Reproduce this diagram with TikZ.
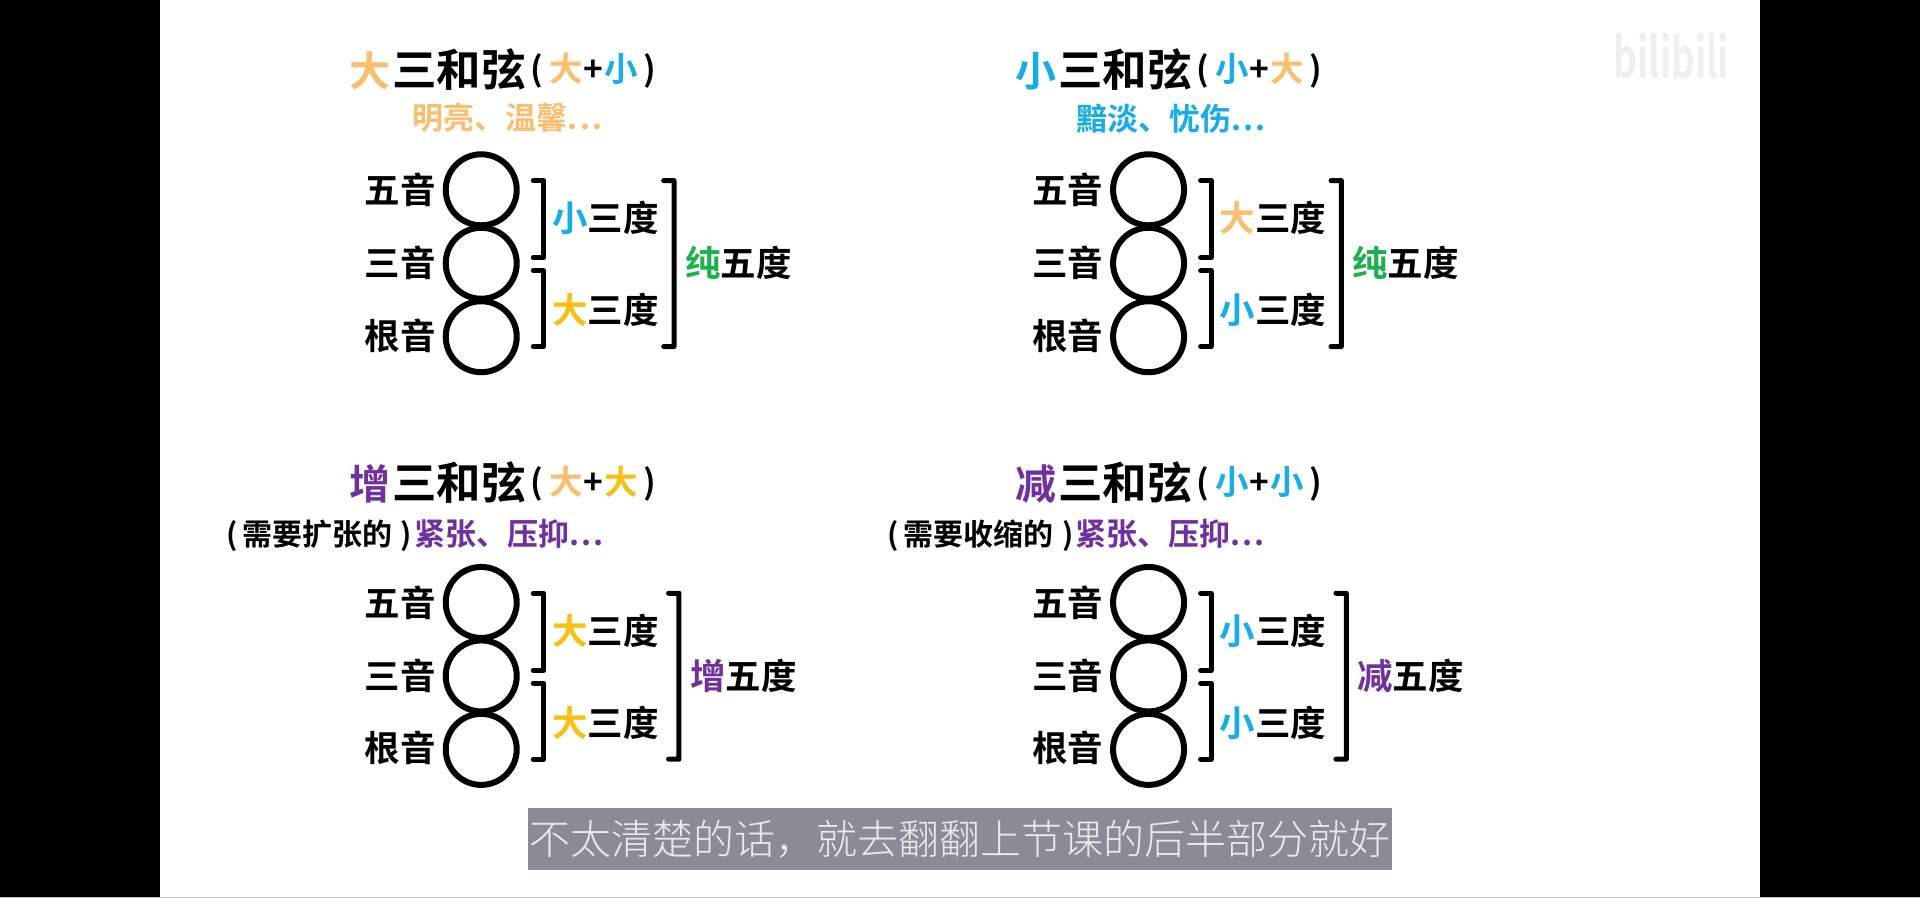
\documentclass[tikz,border=0pt]{standalone}
\usepackage{fontspec}
\setmainfont{Noto Sans CJK SC}[BoldFont={* Bold}]
\newfontfamily\capfont{Noto Sans CJK SC Light}
\definecolor{dao}{HTML}{FBBE6E}
\definecolor{dayel}{HTML}{FBBF12}
\definecolor{xiao}{HTML}{18ADE8}
\definecolor{chun}{HTML}{1CB04E}
\definecolor{zeng}{HTML}{7030A0}
\definecolor{capbg}{HTML}{8B8B97}
\definecolor{capfg}{HTML}{E9E9EE}
\definecolor{wm}{HTML}{F1EEF2}
\newcommand\fpx[1]{\fontsize{#1pt}{#1pt}\selectfont}
\newcommand\dotsx{.\kern2pt.\kern2pt.}
\newcommand\bigch[2]{\textcolor{#1}{\fpx{41}#2}\kern2pt}
\newcommand\triad[7]{%
 % #1 prefix, #2 dx, #3 dy, #4 upper label, #5 lower label, #6 outer label, #7 outer x shift
 \begin{scope}[shift={(#2,#3)}]
  \node[note] (#1c5) at (393,155) {};
  \node[note] (#1c3) at (393,215) {};
  \node[note] (#1c1) at (393,275) {};
  \node[lab,anchor=east] (#1l5) at (356,155) {五音};
  \node[lab,anchor=east] (#1l3) at (356,215) {三音};
  \node[lab,anchor=east] (#1l1) at (356,274) {根音};
  \coordinate (#1ua) at (435.5,147.5);
  \coordinate (#1ub) at (435.5,210.5);
  \coordinate (#1la) at (435.5,221);
  \coordinate (#1lb) at (435.5,283);
  \coordinate (#1oa) at (#7+542,147.5);
  \coordinate (#1ob) at (#7+542,283);
  \draw[brk] (#1ua) -- ++(8.5,0) -- ++(0,63) -- (#1ub);
  \draw[brk] (#1la) -- ++(8.5,0) -- ++(0,62) -- (#1lb);
  \draw[brk] (#1oa) -- ++(8.5,0) -- ++(0,135.5) -- (#1ob);
  \node[lab] (#1iu) at (494.5,178) {#4三度};
  \node[lab] (#1il) at (494.5,253) {#5三度};
  \node[lab] (#1io) at (#7+603,215) {#6五度};
 \end{scope}}
\begin{document}
\begin{tikzpicture}[x=1.2245pt,y=-1.2245pt,
  note/.style={circle,draw=black,line width=6pt,minimum size=71pt,inner sep=0pt,outer sep=0pt},
  lab/.style={font=\bfseries\fpx{35.5},inner sep=0pt,text=black},
  brk/.style={draw=black,line width=5pt,line cap=round,line join=round},
  ttl/.style={font=\bfseries\fpx{44.5},inner sep=0pt,text=black},
  ttls/.style={font=\bfseries\fpx{33.5},inner sep=0pt},
  sub/.style={font=\bfseries\fpx{31},inner sep=0pt}]
\path[use as bounding box] (0,0) rectangle (1568,733.3);
\fill[black] (0,0) rectangle (1568,733.3);
\fill[white] (131,0) rectangle (1437,733.3);
\fill[black!22] (0,732.3) rectangle (1568,733.3);
% panels
\triad{a}{0}{0}{\textcolor{xiao}{小}}{\textcolor{dayel}{大}}{\textcolor{chun}{纯}}{0}
\triad{b}{545}{0}{\textcolor{dao}{大}}{\textcolor{xiao}{小}}{\textcolor{chun}{纯}}{0}
\triad{c}{0}{337}{\textcolor{dayel}{大}}{\textcolor{dayel}{大}}{\textcolor{zeng}{增}}{4}
\triad{d}{545}{337}{\textcolor{xiao}{小}}{\textcolor{xiao}{小}}{\textcolor{zeng}{减}}{4}
% titles
\node[ttl,anchor=west] (t1) at (285,57) {\bigch{dao}{大}三和弦};
\node[ttls,anchor=west] (t1b) at (433,58) {(\kern6pt\textcolor{dao}{大}\kern1pt+\kern1pt\textcolor{xiao}{小}\kern6pt)};
\node[sub] (s1) at (414.5,96) {\textcolor{dao}{明亮、温馨\dotsx}};
\node[ttl,anchor=west] (t2) at (829,57) {\bigch{xiao}{小}三和弦};
\node[ttls,anchor=west] (t2b) at (977,58) {(\kern6pt\textcolor{xiao}{小}\kern1pt+\kern1pt\textcolor{dao}{大}\kern6pt)};
\node[sub] (s2) at (956,97) {\textcolor{xiao}{黯淡、忧伤\dotsx}};
\node[ttl,anchor=west] (t3) at (285,394) {\bigch{zeng}{增}三和弦};
\node[ttls,anchor=west] (t3b) at (433,395) {(\kern6pt\textcolor{dao}{大}\kern1pt+\kern1pt\textcolor{dayel}{大}\kern6pt)};
\node[sub,anchor=east] (s3) at (493,437.5) {{\fpx{30}(\kern5pt需要扩张的\kern8.5pt)}\kern2pt\textcolor{zeng}{紧张、压抑\dotsx}};
\node[ttl,anchor=west] (t4) at (829,394) {\bigch{zeng}{减}三和弦};
\node[ttls,anchor=west] (t4b) at (977,395) {(\kern6pt\textcolor{xiao}{小}\kern1pt+\kern1pt\textcolor{xiao}{小}\kern6pt)};
\node[sub,anchor=east] (s4) at (1033,437.5) {{\fpx{30}(\kern5pt需要收缩的\kern8.5pt)}\kern2pt\textcolor{zeng}{紧张、压抑\dotsx}};
% caption
\node[fill=capbg,text=capfg,font=\capfont\fpx{41},minimum width=864pt,minimum height=62pt,inner sep=0pt] (cap) at (784,685) {不太清楚的话，就去翻翻上节课的后半部分就好};
% watermark
\node[text=wm,font=\bfseries\fpx{40},inner sep=0pt,transform shape,xscale=0.92,yscale=1.4] (wm) at (1365,46) {bilibili};
\end{tikzpicture}
\end{document}
